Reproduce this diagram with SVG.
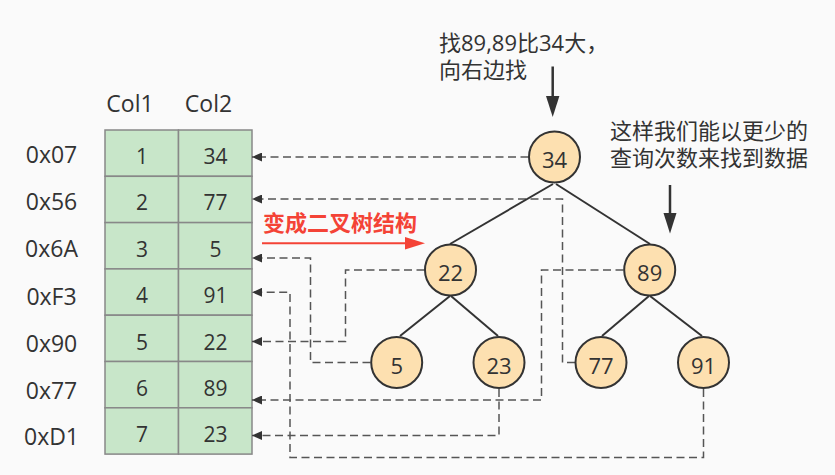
<svg xmlns="http://www.w3.org/2000/svg" width="835" height="475" viewBox="0 0 835 475">
<defs>
<style>
.t{font-family:"Open Sans","Noto Sans CJK SC",sans-serif;fill:#333;}
.lbl{font-size:23px;text-anchor:middle;}
.cell{font-size:21px;text-anchor:middle;}
.node circle{fill:#fde0b0;stroke:#333;stroke-width:2;}
.node text{font-size:22px;text-anchor:middle;}
.cellr{fill:#c8e6c9;stroke:#888;stroke-width:1.5;}
.dash{fill:none;stroke:#555;stroke-width:1.5;stroke-dasharray:8 4.5;marker-end:url(#ah);}
.edge{stroke:#333;stroke-width:2;fill:none;}
.note{font-size:22px;}
</style>
<marker id="ah" markerUnits="userSpaceOnUse" markerWidth="11" markerHeight="9" refX="10" refY="4.5" orient="auto">
<path d="M0,0 L10,4.5 L0,9 z" fill="#333"/>
</marker>
</defs>
<rect width="835" height="475" fill="#fafafa"/>
<g id="table">
<text class="t lbl" x="130" y="111.5">Col1</text>
<text class="t lbl" x="208.5" y="111.5">Col2</text>
<rect class="cellr" x="105" y="130" width="73.5" height="46.3"/>
<rect class="cellr" x="178.5" y="130" width="73.5" height="46.3"/>
<rect class="cellr" x="105" y="176.3" width="73.5" height="46.3"/>
<rect class="cellr" x="178.5" y="176.3" width="73.5" height="46.3"/>
<rect class="cellr" x="105" y="222.6" width="73.5" height="46.3"/>
<rect class="cellr" x="178.5" y="222.6" width="73.5" height="46.3"/>
<rect class="cellr" x="105" y="268.9" width="73.5" height="46.3"/>
<rect class="cellr" x="178.5" y="268.9" width="73.5" height="46.3"/>
<rect class="cellr" x="105" y="315.2" width="73.5" height="46.3"/>
<rect class="cellr" x="178.5" y="315.2" width="73.5" height="46.3"/>
<rect class="cellr" x="105" y="361.5" width="73.5" height="46.3"/>
<rect class="cellr" x="178.5" y="361.5" width="73.5" height="46.3"/>
<rect class="cellr" x="105" y="407.8" width="73.5" height="46.3"/>
<rect class="cellr" x="178.5" y="407.8" width="73.5" height="46.3"/>
<text class="t lbl" x="51.5" y="162.7">0x07</text>
<text class="t lbl" x="51.5" y="210.2">0x56</text>
<text class="t lbl" x="51.5" y="257.2">0x6A</text>
<text class="t lbl" x="51.5" y="304.7">0xF3</text>
<text class="t lbl" x="51.5" y="352.2">0x90</text>
<text class="t lbl" x="51.5" y="399.2">0x77</text>
<text class="t lbl" x="51.5" y="445.2">0xD1</text>
<text class="t cell" x="142" y="163.5">1</text><text class="t cell" x="215.5" y="163.5">34</text>
<text class="t cell" x="142" y="210">2</text><text class="t cell" x="215.5" y="210">77</text>
<text class="t cell" x="142" y="256.5">3</text><text class="t cell" x="215.5" y="256.5">5</text>
<text class="t cell" x="142" y="303">4</text><text class="t cell" x="215.5" y="303">91</text>
<text class="t cell" x="142" y="350">5</text><text class="t cell" x="215.5" y="350">22</text>
<text class="t cell" x="142" y="396">6</text><text class="t cell" x="215.5" y="396">89</text>
<text class="t cell" x="142" y="441.5">7</text><text class="t cell" x="215.5" y="441.5">23</text>
</g>
<g id="connectors">
<path class="dash" d="M528.5,157 H252"/>
<path class="dash" d="M575,362.5 H562.5 V199 H252"/>
<path class="dash" d="M370.5,362.5 H310.5 V258 H252"/>
<path class="dash" d="M703.5,389 V457.5 H290 V292.3 H252"/>
<path class="dash" d="M424.5,270 H345.5 V341.5 H252"/>
<path class="dash" d="M623.5,270 H541.5 V400 H252"/>
<path class="dash" d="M499,389 V435.5 H252"/>
<line class="edge" x1="553" y1="184" x2="450" y2="244"/>
<line class="edge" x1="556" y1="184" x2="650" y2="244"/>
<line class="edge" x1="450" y1="296" x2="400" y2="336"/>
<line class="edge" x1="451" y1="296" x2="498" y2="336"/>
<line class="edge" x1="649" y1="296" x2="602" y2="336"/>
<line class="edge" x1="650" y1="296" x2="702" y2="336"/>
</g>
<g id="n34" class="node"><circle cx="554.5" cy="157" r="25.5"/><text class="t" x="554.5" y="168.3">34</text></g>
<g id="n22" class="node"><circle cx="450.5" cy="270" r="25.5"/><text class="t" x="450.5" y="281.3">22</text></g>
<g id="n89" class="node"><circle cx="649.7" cy="270" r="25.5"/><text class="t" x="649.7" y="281.3">89</text></g>
<g id="n5" class="node"><circle cx="396.7" cy="362.5" r="25.5"/><text class="t" x="396.7" y="373.8">5</text></g>
<g id="n23" class="node"><circle cx="499" cy="362.5" r="25.5"/><text class="t" x="499" y="373.8">23</text></g>
<g id="n77" class="node"><circle cx="601" cy="362.5" r="25.5"/><text class="t" x="601" y="373.8">77</text></g>
<g id="n91" class="node"><circle cx="703.5" cy="362.5" r="25.5"/><text class="t" x="703.5" y="373.8">91</text></g>
<g id="red-label">
<text x="263" y="231" style="font-family:'Noto Sans CJK SC',sans-serif;font-size:22px;font-weight:bold;fill:#f44336;">变成二叉树结构</text>
<line x1="262" y1="243.3" x2="407" y2="243.3" stroke="#f44336" stroke-width="2"/>
<path d="M405,237 L425,243.3 L405,249.6 z" fill="#f44336"/>
</g>
<g id="note1">
<text class="t note" x="439" y="51">找89,89比34大，<tspan x="439" y="78">向右边找</tspan></text>
<line x1="552.7" y1="66.5" x2="552.7" y2="98" stroke="#333" stroke-width="2.5"/>
<path d="M546,96 L552.7,117 L559.4,96 z" fill="#333"/>
</g>
<g id="note2">
<text class="t note" x="610" y="139">这样我们能以更少的<tspan x="610" y="166">查询次数来找到数据</tspan></text>
<line x1="670" y1="185" x2="670" y2="215" stroke="#333" stroke-width="2.5"/>
<path d="M663.5,213 L670,233.5 L676.5,213 z" fill="#333"/>
</g>
</svg>
